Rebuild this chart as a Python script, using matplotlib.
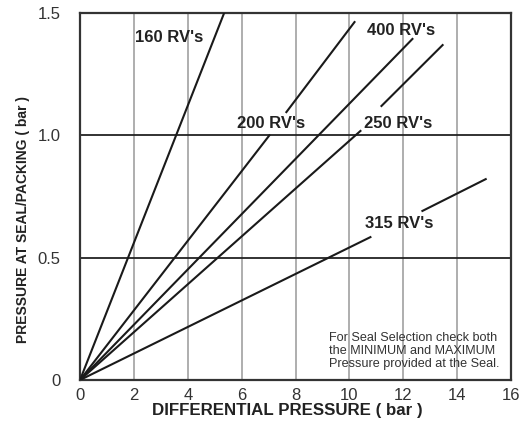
import matplotlib
matplotlib.use("Agg")
import matplotlib.pyplot as plt
import numpy as np

plt.rcParams['font.family'] = ['Liberation Sans', 'DejaVu Sans']

nan = np.nan

# Line segments (NaN marks the gap left for a label)
rv160_x = [0, 5.35]
rv160_y = [0, 1.5]
rv200_x = [0, 7.03, nan, 7.66, 10.19]
rv200_y = [0, 1.00, nan, 1.095, 1.463]
rv400_x = [0, 12.34]
rv400_y = [0, 1.394]
rv250_x = [0, 10.41, nan, 11.19, 13.46]
rv250_y = [0, 1.018, nan, 1.12, 1.369]
rv315_x = [0, 10.78, nan, 12.71, 15.06]
rv315_y = [0, 0.584, nan, 0.691, 0.821]

series = [
    (rv160_x, rv160_y, "160 RV's", 3.3, 1.40),
    (rv200_x, rv200_y, "200 RV's", 7.1, 1.05),
    (rv400_x, rv400_y, "400 RV's", 11.9, 1.43),
    (rv250_x, rv250_y, "250 RV's", 11.8, 1.05),
    (rv315_x, rv315_y, "315 RV's", 11.86, 0.64),
]

x_ticks = [0, 2, 4, 6, 8, 10, 12, 14, 16]
y_ticks = [0, 0.5, 1.0, 1.5]
y_tick_labels = ['0', '0.5', '1.0', '1.5']

fig = plt.figure(figsize=(5.22, 4.21), dpi=100)
ax = fig.add_axes([0.1533, 0.0974, 0.8257, 0.8717])

# vertical grid (gray) and horizontal grid (black)
for xv in x_ticks[1:-1]:
    ax.axvline(xv, color='#a8a8a8', lw=1.3, zorder=1)
for yv in y_ticks[1:-1]:
    ax.axhline(yv, color='#222222', lw=1.3, zorder=1)

for xs, ys, label, lx, ly in series:
    ax.plot(xs, ys, color='#1a1a1a', lw=1.5, zorder=3)
    ax.text(lx, ly, label, ha='center', va='center', fontsize=12,
            fontweight='bold', color='#222222', zorder=4)

ax.text(9.26, 0.118, "For Seal Selection check both\nthe MINIMUM and MAXIMUM\nPressure provided at the Seal.",
        ha='left', va='center', fontsize=9.1, color='#333333', linespacing=1.08)

ax.set_xlim(0, 16)
ax.set_ylim(0, 1.5)
ax.set_xticks(x_ticks)
ax.set_yticks(y_ticks)
ax.set_yticklabels(y_tick_labels)
ax.tick_params(axis='both', length=0, labelsize=12, colors='#333333')
ax.tick_params(axis='x', pad=6)
ax.tick_params(axis='y', pad=14)

for sp in ax.spines.values():
    sp.set_linewidth(1.6)
    sp.set_color('#333333')

ax.set_xlabel('DIFFERENTIAL PRESSURE ( bar )', fontsize=12.2, fontweight='bold', color='#222222')
ax.set_ylabel('PRESSURE AT SEAL/PACKING ( bar )', fontsize=10, fontweight='bold', color='#222222')
ax.xaxis.set_label_coords(0.48, -0.062)
ax.yaxis.set_label_coords(-0.116, 0.436)

fig.savefig('out.png', dpi=100)
